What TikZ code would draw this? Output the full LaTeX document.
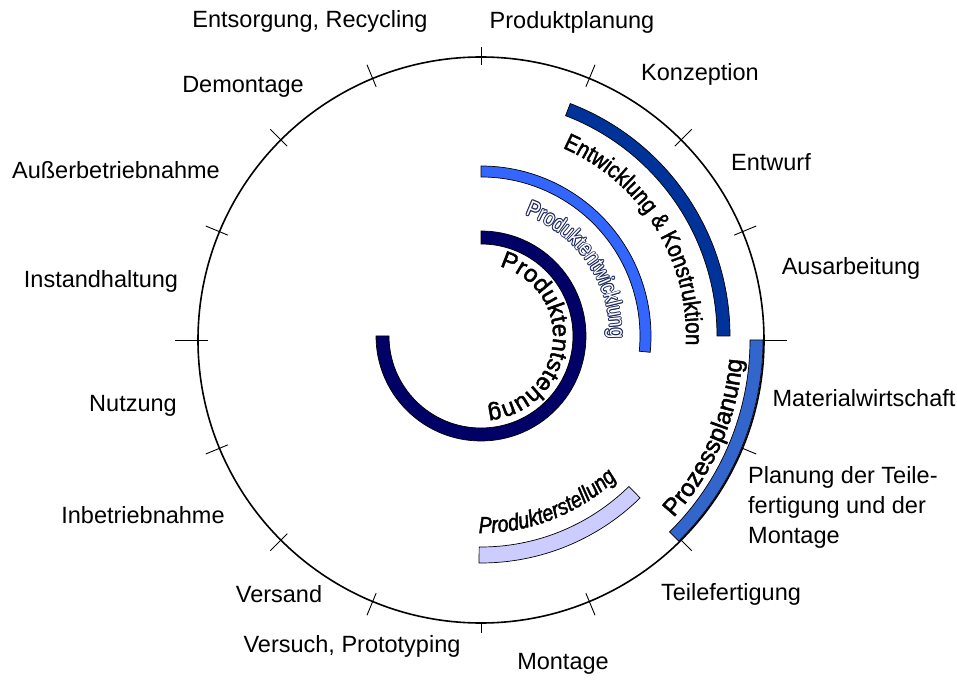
\documentclass[tikz,border=0pt]{standalone}
\usepackage{fontspec}
\setmainfont{Liberation Sans}
\newfontfamily\arcfont[FakeBold=1.8]{Liberation Sans}
\newfontfamily\arcnarrowfont[FakeStretch=0.85, FakeBold=1.8]{Liberation Sans}
\newfontfamily\arcoutlinefont[FakeStretch=0.82]{Liberation Sans}
\newfontfamily\arcslantfont[FakeStretch=0.85, FakeBold=1.8]{Liberation Sans}
\usetikzlibrary{decorations.text}

\definecolor{ekblue}{HTML}{003399}
\definecolor{pewblue}{HTML}{3366FF}
\definecolor{pesnavy}{HTML}{000066}
\definecolor{ppblue}{HTML}{3366CC}
\definecolor{pelav}{HTML}{CCCCFF}
\definecolor{outlinenavy}{HTML}{1E2A5E}

\newcommand\ekfont{\arcnarrowfont\fontsize{24}{28}\selectfont}
\newcommand\pewfont{\arcoutlinefont\fontsize{22.5}{26}\selectfont}
\newcommand\pesfont{\arcfont\fontsize{24}{28}\selectfont}
\newcommand\ppfont{\arcfont\fontsize{24.5}{28}\selectfont}
\newcommand\perfont{\arcslantfont\itshape\fontsize{23}{27}\selectfont}

% annular sector: style, start angle, end angle, outer radius, inner radius
\newcommand\ringsector[5]{%
  \draw[#1] (#2:#4) arc[start angle=#2, end angle=#3, radius=#4]
    -- (#3:#5) arc[start angle=#3, end angle=#2, radius=#5] -- cycle;}

\tikzset{
  phase/.style={font=\fontsize{23.5}{30}\selectfont, inner sep=0pt},
  tickmark/.style={line width=0.9pt},
  band/.style={draw=black, line width=0.7pt},
}

\begin{document}
\begin{tikzpicture}[x=1pt, y=1pt]
\useasboundingbox (-481,-339) rectangle (476,340);

% life-cycle circle with phase boundaries
\draw[line width=1.6pt] (0,0) circle[radius=283pt];
\foreach \a in {22.5,45,67.5,112.5,135,157.5,202.5,225,247.5,292.5,315,337.5}
  \draw[tickmark] (\a:274pt) -- (\a:298pt);
\draw[tickmark] (0:273pt) -- (0:306pt);
\draw[tickmark] (180:273pt) -- (180:306pt);
\draw[tickmark] (90:275pt) -- (90:293pt);
\draw[tickmark] (270:283pt) -- (270:293pt);

% process planning band on the rim
\ringsector{band, fill=ppblue}{0}{-45.5}{282pt}{269pt}
\path[decorate, decoration={text along path, text align=center,
    text={|\ppfont|Prozessplanung}}]
  (-46:262pt) arc[start angle=-46, end angle=-1, radius=262pt];

% inner bands
\begin{scope}[shift={(0,4)}]
  \ringsector{band, fill=ekblue}{69}{0}{249pt}{236pt}
  \ringsector{band, fill=pewblue}{90}{-5.5}{170pt}{159pt}
  \ringsector{band, fill=pesnavy}{90}{-180}{105pt}{92pt}
  \ringsector{band, fill=pelav}{-90.5}{-45.5}{227pt}{211pt}

  \path[decorate, decoration={text along path, text align=center,
      text={|\ekfont|Entwicklung {\&} Konstruktion}}]
    (70:205pt) arc[start angle=70, end angle=-6, radius=205pt];

  % outlined lettering
  \foreach \dx/\dy in {0.9/0,-0.9/0,0/0.9,0/-0.9,0.64/0.64,-0.64/0.64,0.64/-0.64,-0.64/-0.64}
    \path[shift={(\dx,\dy)}, decorate, decoration={text along path, text align=center,
        text color=outlinenavy, text={|\pewfont|Produktentwicklung}}]
      (74:129pt) arc[start angle=74, end angle=-5, radius=129pt];
  \path[decorate, decoration={text along path, text align=center,
      text color=white, text={|\pewfont|Produktentwicklung}}]
    (74:129pt) arc[start angle=74, end angle=-5, radius=129pt];

  \path[decorate, decoration={text along path, text align=center,
      text={|\pesfont|Produktentstehung}}]
    (80:72pt) arc[start angle=80, end angle=-90, radius=72pt];

  \path[decorate, decoration={text along path, text align=center,
      text={|\perfont|Produkterstellung}}]
    (-95:197pt) arc[start angle=-95, end angle=-42, radius=197pt];
\end{scope}

% phase labels
\node[phase] (produktplanung) at (91,318) {Produktplanung};
\node[phase] (konzeption) at (219,266) {Konzeption};
\node[phase] (entwurf) at (290,178) {Entwurf};
\node[phase] (ausarbeitung) at (370,72) {Ausarbeitung};
\node[phase] (materialwirtschaft) at (383,-58) {Materialwirtschaft};
\node[phase, anchor=west, align=left] (teileplanung) at (267,-167)
  {Planung der Teile-\\fertigung und der\\Montage};
\node[phase] (teilefertigung) at (250,-254) {Teilefertigung};
\node[phase] (montage) at (82,-324) {Montage};
\node[phase] (versuch) at (-129,-306) {Versuch, Prototyping};
\node[phase] (versand) at (-202,-254) {Versand};
\node[phase] (inbetriebnahme) at (-338,-175) {Inbetriebnahme};
\node[phase] (nutzung) at (-348,-66) {Nutzung};
\node[phase] (instandhaltung) at (-380,59) {Instandhaltung};
\node[phase] (ausserbetrieb) at (-365,170) {Außerbetriebnahme};
\node[phase] (demontage) at (-238,253) {Demontage};
\node[phase] (entsorgung) at (-171,319) {Entsorgung, Recycling};
\end{tikzpicture}
\end{document}
